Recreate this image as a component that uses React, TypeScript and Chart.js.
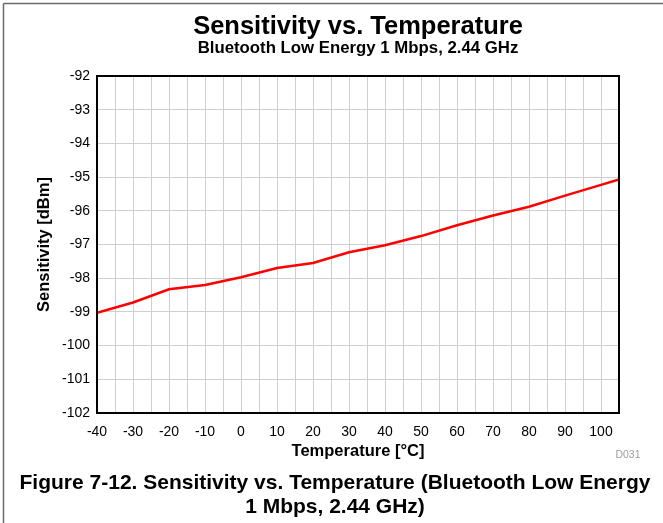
import React, { useEffect, useRef } from "react";
import { Chart, registerables } from "chart.js";

Chart.register(...registerables);

const temperatures: number[] = [-40, -30, -20, -10, 0, 10, 20, 30, 40, 50, 60, 70, 80, 90, 100, 105];
const sensitivity: number[] = [-99.03, -98.72, -98.33, -98.2, -97.97, -97.7, -97.55, -97.23, -97.02, -96.75, -96.43, -96.14, -95.88, -95.55, -95.23, -95.07];

const titleText = "Sensitivity vs. Temperature";
const subtitleText = "Bluetooth Low Energy 1 Mbps, 2.44 GHz";
const captionLines: string[] = [
  "Figure 7-12. Sensitivity vs. Temperature (Bluetooth Low Energy",
  "1 Mbps, 2.44 GHz)",
];
const xAxisTitle = "Temperature [°C]";
const yAxisTitle = "Sensitivity [dBm]";
const figureId = "D031";

const FONT = '"Liberation Sans", Arial, Helvetica, sans-serif';

const W = 663;
const H = 523;

const decorPlugin = {
  id: "decor",
  beforeDraw(chart: any) {
    const ctx = chart.ctx;
    ctx.save();
    ctx.fillStyle = "#ffffff";
    ctx.fillRect(0, 0, W, H);
    ctx.restore();
  },
  afterDraw(chart: any) {
    const ctx = chart.ctx as CanvasRenderingContext2D;
    const a = chart.chartArea;
    ctx.save();
    // plot frame
    ctx.strokeStyle = "#000000";
    ctx.lineWidth = 2;
    ctx.strokeRect(a.left, a.top, a.right - a.left, a.bottom - a.top);
    // page frame lines
    ctx.strokeStyle = "#6a6a6a";
    ctx.lineWidth = 1.5;
    ctx.beginPath();
    ctx.moveTo(3.5, 3.5);
    ctx.lineTo(3.5, H);
    ctx.moveTo(3.5, 3.5);
    ctx.lineTo(W, 3.5);
    ctx.stroke();

    const cx = (a.left + a.right) / 2;
    ctx.fillStyle = "#000000";
    ctx.textAlign = "center";
    ctx.textBaseline = "alphabetic";
    ctx.font = `bold 25.5px ${FONT}`;
    ctx.fillText(titleText, cx, 34);
    ctx.font = `bold 16.8px ${FONT}`;
    ctx.fillText(subtitleText, cx, 53);

    ctx.font = `bold 21px ${FONT}`;
    ctx.fillText(captionLines[0], 335, 488.5);
    ctx.fillText(captionLines[1], 335, 512.5);

    ctx.fillStyle = "#a0a0a0";
    ctx.font = `10.5px ${FONT}`;
    ctx.textBaseline = "middle";
    ctx.fillText(figureId, 628, 455);
    ctx.restore();
  },
};

export default function App() {
  const ref = useRef<HTMLCanvasElement | null>(null);

  useEffect(() => {
    if (!ref.current) return;
    const points = temperatures.map((t, i) => ({ x: t, y: sensitivity[i] }));
    const chart = new Chart(ref.current, {
      type: "line",
      data: {
        datasets: [
          {
            data: points,
            borderColor: "#ff0000",
            borderWidth: 2.5,
            pointRadius: 0,
            fill: false,
            tension: 0,
          },
        ],
      },
      options: {
        responsive: false,
        animation: false,
        devicePixelRatio: 1,
        layout: { padding: { top: 76, left: 0, right: 44, bottom: 0 } },
        plugins: {
          legend: { display: false },
          tooltip: { enabled: false },
          title: { display: false },
        },
        scales: {
          x: {
            type: "linear",
            min: -40,
            max: 105,
            afterFit(scale: any) {
              scale.height = 110;
            },
            grid: {
              color: "#cfcfcf",
              lineWidth: 1,
              drawTicks: false,
              tickLength: 0,
            },
            border: { display: false },
            ticks: {
              stepSize: 5,
              autoSkip: false,
              maxRotation: 0,
              padding: 11,
              color: "#000000",
              font: { family: FONT, size: 14 },
              callback: (v: any) => (Number(v) % 10 === 0 ? String(v) : ""),
            },
            title: {
              display: true,
              text: xAxisTitle,
              color: "#000000",
              font: { family: FONT, size: 16.5, weight: "bold" },
              padding: { top: 0, bottom: 62 },
            },
          },
          y: {
            type: "linear",
            min: -102,
            max: -92,
            afterFit(scale: any) {
              scale.width = 97;
            },
            grid: {
              color: "#cfcfcf",
              lineWidth: 1,
              drawTicks: false,
              tickLength: 0,
            },
            border: { display: false },
            ticks: {
              stepSize: 1,
              autoSkip: false,
              padding: 7,
              color: "#000000",
              font: { family: FONT, size: 14 },
            },
            title: {
              display: true,
              text: yAxisTitle,
              color: "#000000",
              font: { family: FONT, size: 16.5, weight: "bold" },
              padding: { top: 35, bottom: 0 },
            },
          },
        },
      },
      plugins: [decorPlugin],
    });
    return () => chart.destroy();
  }, []);

  return (
    <div style={{ position: "fixed", left: 0, top: 0, width: W, height: H, background: "#fff" }}>
      <canvas ref={ref} width={W} height={H} style={{ display: "block", width: W, height: H }} />
    </div>
  );
}
